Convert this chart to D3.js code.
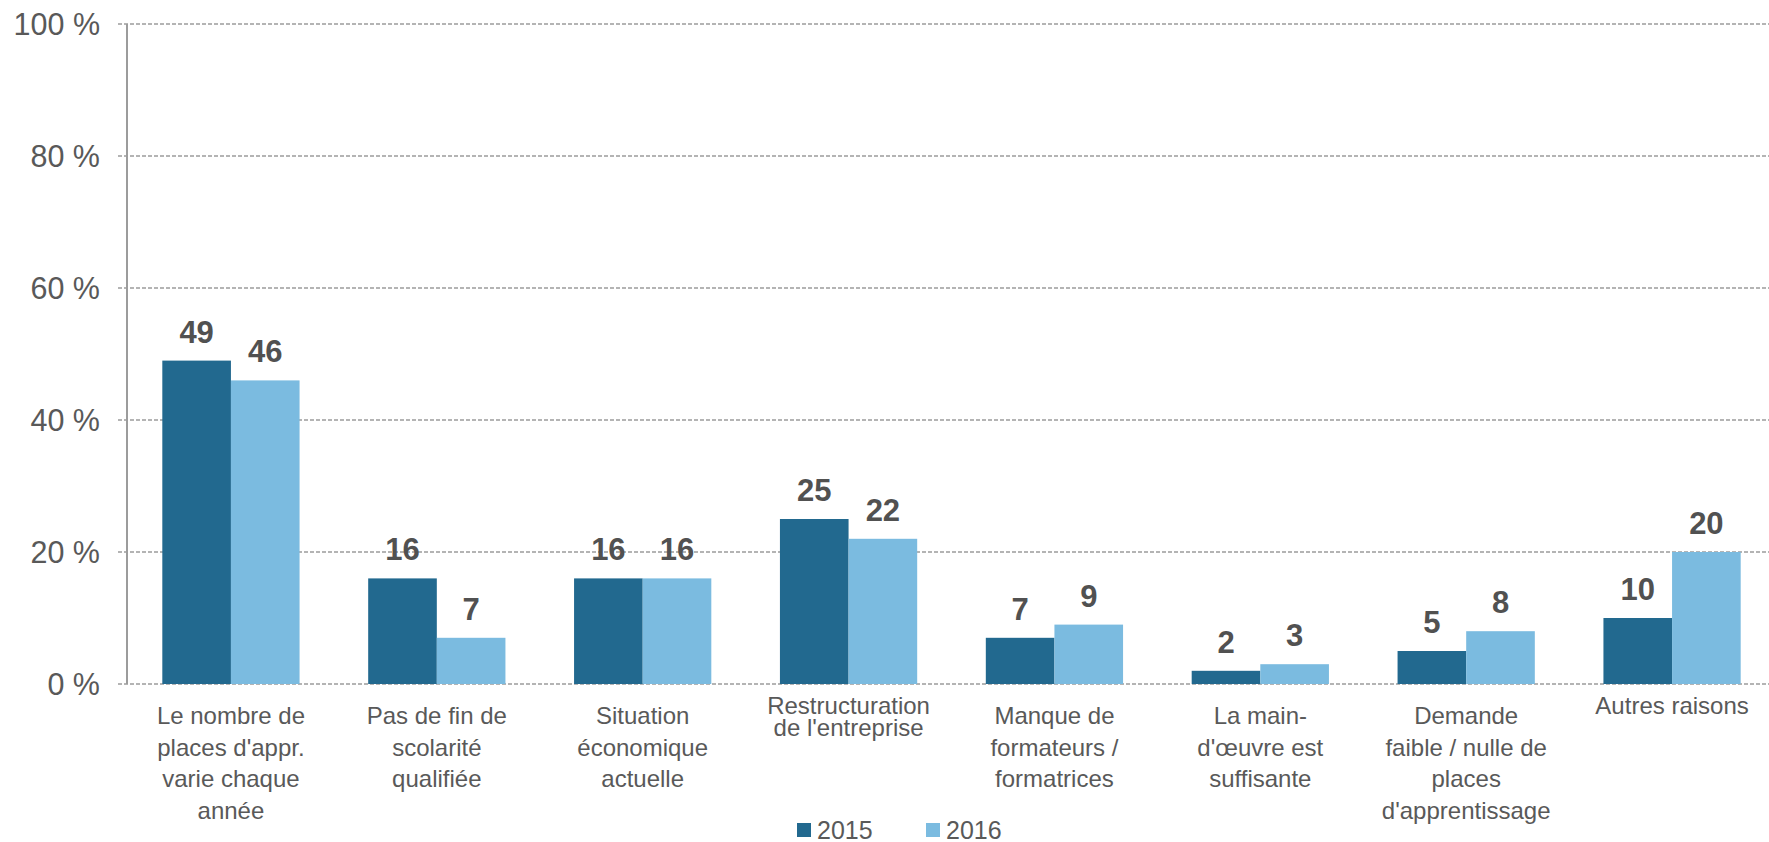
<!DOCTYPE html>
<html>
<head>
<meta charset="utf-8">
<script src="https://cdn.jsdelivr.net/npm/d3@7"></script>
<style>
  body { margin: 0; background: #fff; }
  text { font-family: "Liberation Sans", Arial, sans-serif; }
</style>
</head>
<body>
<div id="chart"></div>
<script>
// categories, one entry per line of the wrapped label
var categories = [
    ["Le nombre de", "places d'appr.", "varie chaque", "année"],
    ["Pas de fin de", "scolarité", "qualifiée"],
    ["Situation", "économique", "actuelle"],
    ["Restructuration", "de l'entreprise"],
    ["Manque de", "formateurs /", "formatrices"],
    ["La main-", "d'œuvre est", "suffisante"],
    ["Demande", "faible / nulle de", "places", "d'apprentissage"],
    ["Autres raisons"]
];
var values2015 = [49, 16, 16, 25, 7, 2, 5, 10];
var values2016 = [46, 7, 16, 22, 9, 3, 8, 20];
var seriesNames = ["2015", "2016"];
var yTicks = [0, 20, 40, 60, 80, 100];

var W = 1769, H = 842;
var margin = {top: 24, right: 0, bottom: 158, left: 128};
var plotW = W - margin.left - margin.right + 6,
    plotH = H - margin.top - margin.bottom;

var colors = ["#22698f", "#7bbbe0"];

var svg = d3.select("#chart")
  .append("svg")
    .attr("width", W)
    .attr("height", H)
  .append("g")
    .attr("transform", "translate(" + margin.left + "," + margin.top + ")");

var keys = categories.map(function(d, i) { return i; });

var x0 = d3.scaleBand()
  .domain(keys)
  .range([0, plotW])
  .paddingInner(0)
  .paddingOuter(0);

var x1 = d3.scaleBand()
  .domain(seriesNames)
  .range([x0.bandwidth() / 6, x0.bandwidth() * 5 / 6]);

var y = d3.scaleLinear()
  .domain([0, 100])
  .range([plotH, 0]);

// gridlines (dashed), including the 0 line
svg.append("g")
  .selectAll("line")
  .data(yTicks)
  .enter()
  .append("line")
    .attr("x1", -10)
    .attr("x2", W - margin.left)
    .attr("y1", function(d) { return y(d); })
    .attr("y2", function(d) { return y(d); })
    .attr("stroke", "#9c9c9c")
    .attr("stroke-width", 1.3)
    .attr("stroke-dasharray", "4,2");

// y axis labels
var yAxis = svg.append("g")
  .call(d3.axisLeft(y).tickValues(yTicks).tickSize(0).tickPadding(28)
    .tickFormat(function(d) { return d + " %"; }));
yAxis.select(".domain").remove();
yAxis.selectAll("text")
  .attr("font-size", "30.5px")
  .attr("fill", "#595959")
  .attr("dy", "0.36em");

// vertical axis line
svg.append("line")
  .attr("x1", -1).attr("x2", -1)
  .attr("y1", 0).attr("y2", plotH)
  .attr("stroke", "#9c9c9c")
  .attr("stroke-width", 2);

var rows = keys.map(function(i) {
  return [
    {key: seriesNames[0], cat: i, value: values2015[i]},
    {key: seriesNames[1], cat: i, value: values2016[i]}
  ];
});

var groups = svg.selectAll("g.grp")
  .data(rows)
  .enter()
  .append("g")
    .attr("class", "grp")
    .attr("transform", function(d, i) { return "translate(" + x0(i) + ",0)"; });

groups.selectAll("rect")
  .data(function(d) { return d; })
  .enter()
  .append("rect")
    .attr("x", function(d) { return x1(d.key); })
    .attr("y", function(d) { return y(d.value); })
    .attr("width", x1.bandwidth())
    .attr("height", function(d) { return plotH - y(d.value); })
    .attr("fill", function(d, i) { return colors[i]; });

groups.selectAll("text.val")
  .data(function(d) { return d; })
  .enter()
  .append("text")
    .attr("class", "val")
    .attr("x", function(d) { return x1(d.key) + x1.bandwidth() / 2; })
    .attr("y", function(d) { return y(d.value) - 18; })
    .attr("text-anchor", "middle")
    .attr("font-size", "31px")
    .attr("font-weight", "bold")
    .attr("fill", "#515151")
    .text(function(d) { return d.value; });

// category labels (the two shorter ones sit higher with tighter lines)
var tight = [3, 7];
svg.selectAll("text.cat")
  .data(categories)
  .enter()
  .append("text")
    .attr("class", "cat")
    .attr("text-anchor", "middle")
    .attr("font-size", "24px")
    .attr("fill", "#595959")
    .each(function(lines, i) {
      var t = d3.select(this);
      var isTight = tight.indexOf(i) >= 0;
      var top = plotH + (isTight ? 30 : 40);
      var lh = isTight ? 22 : 31.5;
      lines.forEach(function(s, j) {
        t.append("tspan")
          .attr("x", x0(i) + x0.bandwidth() / 2)
          .attr("y", top + j * lh)
          .text(s);
      });
    });

// legend
var legend = svg.append("g")
  .attr("transform", "translate(" + (797 - margin.left) + "," + (823 - margin.top) + ")");
var leg = legend.selectAll("g")
  .data(seriesNames)
  .enter()
  .append("g")
    .attr("transform", function(d, i) { return "translate(" + (i * 129) + ",0)"; });
leg.append("rect")
  .attr("width", 14).attr("height", 14)
  .attr("fill", function(d, i) { return colors[i]; });
leg.append("text")
  .attr("x", 20)
  .attr("y", 16)
  .attr("font-size", "25px")
  .attr("fill", "#595959")
  .text(function(d) { return d; });
</script>
</body>
</html>
